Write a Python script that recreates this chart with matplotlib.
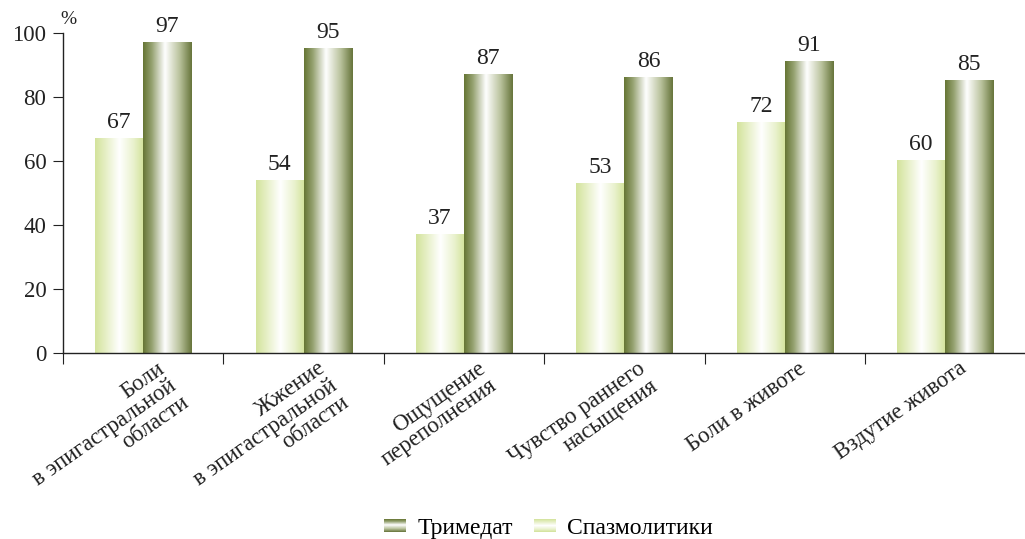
import numpy as np
import matplotlib
matplotlib.use("Agg")
import matplotlib.pyplot as plt
from matplotlib.colors import LinearSegmentedColormap
from matplotlib.image import BboxImage
from matplotlib.transforms import Bbox, TransformedBbox, offset_copy
from matplotlib.legend_handler import HandlerBase
from matplotlib.patches import Patch

plt.rcParams['font.family'] = ['Liberation Serif', 'DejaVu Serif']

categories = [
    "Боли\nв эпигастральной\nобласти",
    "Жжение\nв эпигастральной\nобласти",
    "Ощущение\nпереполнения",
    "Чувство раннего\nнасыщения",
    "Боли в животе",
    "Вздутие живота",
]
spasm = [67, 54, 37, 53, 72, 60]
trimedat = [97, 95, 87, 86, 91, 85]
series_names = ["Тримедат", "Спазмолитики"]

# gradients: edge colour -> white -> edge colour
dark_cmap = LinearSegmentedColormap.from_list(
    "dark", [(0, "#667534"), (0.18, "#95a271"), (0.45, "#ffffff"),
             (0.75, "#b9c29c"), (1, "#66743a")])
light_cmap = LinearSegmentedColormap.from_list(
    "light", [(0, "#d3e39b"), (0.25, "#e9f1cc"), (0.5, "#ffffff"),
              (0.78, "#eaf2cf"), (1, "#d2e29a")])
grad = np.linspace(0, 1, 256).reshape(1, -1)

fig = plt.figure(figsize=(10.25, 5.39), dpi=100)
ax = fig.add_axes([0.0615, 0.345, 0.939, 0.594])

x = np.arange(len(categories))
w = 0.3
b_light = ax.bar(x - w / 2, spasm, w, color="none", edgecolor="none")
b_dark = ax.bar(x + w / 2, trimedat, w, color="none", edgecolor="none")

for bars, cmap in ((b_light, light_cmap), (b_dark, dark_cmap)):
    for p in bars:
        x0, y0 = p.get_x(), p.get_y()
        ax.imshow(grad, cmap=cmap, aspect="auto", interpolation="bicubic",
                  extent=(x0, x0 + p.get_width(), y0, y0 + p.get_height()),
                  zorder=2)
    for p in bars:
        ax.annotate(f"{int(p.get_height())}",
                    (p.get_x() + p.get_width() / 2, p.get_height()),
                    xytext=(0, 4), textcoords="offset points",
                    ha="center", va="bottom", fontsize=17, color="#222222")

ax.set_xlim(-0.5, len(categories) - 0.5)
ax.set_ylim(0, 100)
ax.set_yticks(range(0, 101, 20))
ax.set_xticks(np.arange(-0.5, len(categories), 1.0))
ax.set_xticklabels([])
ax.tick_params(axis="y", direction="out", length=7, labelsize=16.5, pad=5,
               colors="#222222")
ax.tick_params(axis="x", direction="out", length=8, colors="#222222")
for s in ("top", "right"):
    ax.spines[s].set_visible(False)
for s in ("left", "bottom"):
    ax.spines[s].set_color("#222222")
    ax.spines[s].set_linewidth(1.0)

ax.text(0.006, 1.015, "%", transform=ax.transAxes, fontsize=14,
        ha="center", va="bottom", color="#222222")

lab_tr = offset_copy(ax.transData, fig=fig, x=13, y=-5, units="dots")
for i, c in enumerate(categories):
    ax.text(i, 0, c, transform=lab_tr, rotation=35, rotation_mode="anchor",
            ha="right", va="top", multialignment="right", fontsize=16.5,
            color="#222222", linespacing=1.0)


class GradHandler(HandlerBase):
    def __init__(self, cmap):
        super().__init__()
        self.cmap = cmap

    def create_artists(self, legend, orig_handle, xdescent, ydescent,
                       width, height, fontsize, trans):
        bb = TransformedBbox(Bbox.from_bounds(-xdescent, -ydescent + 1,
                                              width, height - 2), trans)
        im = BboxImage(bb, cmap=self.cmap, interpolation="bicubic")
        im.set_data(np.linspace(0, 1, 64).reshape(-1, 1))
        return [im]


h_dark = Patch(label=series_names[0])
h_light = Patch(label=series_names[1])
fig.legend([h_dark, h_light], series_names, loc="lower center",
           bbox_to_anchor=(0.535, -0.04), ncol=2, frameon=False,
           fontsize=17, handlelength=0.9, handleheight=0.6,
           columnspacing=0.9, handletextpad=0.5,
           handler_map={h_dark: GradHandler(dark_cmap),
                        h_light: GradHandler(light_cmap)})

fig.savefig("out.png", dpi=100)
